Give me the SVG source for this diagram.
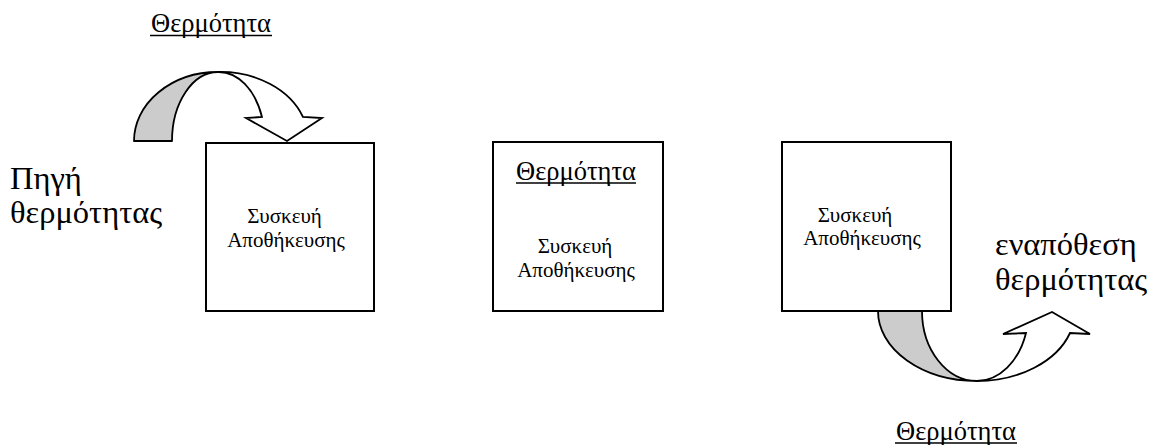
<svg xmlns="http://www.w3.org/2000/svg" width="1151" height="445" viewBox="0 0 1151 445">
<style>
.box{fill:#fff;stroke:#000;stroke-width:2}
.band{fill:#cccccc;stroke:#000;stroke-width:1.8;stroke-linejoin:round}
.arr{fill:#fff;stroke:#000;stroke-width:1.8;stroke-linejoin:miter}
.t{font-family:"Liberation Serif","Times New Roman",serif;fill:#000}
.sm{font-size:21px}
.md{font-size:26.5px}
.lg{font-size:32.5px}
.ul{stroke:#000;stroke-width:1.5}
</style>
<rect width="1151" height="445" fill="#fff"/>
<g id="connectors">
  <g id="arrow-in">
    <path class="band" d="M134,141 A84,69 0 0 1 218,72 A46,69 0 0 0 172,141 Z"/>
    <path class="arr" d="M218,72 A88,69 0 0 1 303,117 L322,118 L287,141 L246,118 L262,117 A46,69 0 0 0 218,72 Z"/>
  </g>
  <g id="arrow-out">
    <path class="band" d="M878,311 A99,70 0 0 0 977,381 A55,70 0 0 1 922,311 Z"/>
    <path class="arr" d="M977,381 A98,70 0 0 0 1070,333 L1090,334 L1052,312 L1003,334 L1026,333 A52,70 0 0 1 977,381 Z"/>
  </g>
</g>
<g id="label-top">
  <text class="t md" x="211" y="32" text-anchor="middle">Θερμότητα</text>
  <line class="ul" x1="150" y1="35.5" x2="272" y2="35.5"/>
</g>
<g id="source">
  <text class="t lg" x="10" y="189">Πηγή</text>
  <text class="t lg" x="10" y="223">θερμότητας</text>
</g>
<g id="box1">
  <rect class="box" x="206" y="143" width="168" height="168"/>
  <text class="t sm" x="284.5" y="223" text-anchor="middle">Συσκευή</text>
  <text class="t sm" x="286" y="247" text-anchor="middle">Αποθήκευσης</text>
</g>
<g id="box2">
  <rect class="box" x="493" y="142" width="170" height="169"/>
  <text class="t md" x="576" y="180" text-anchor="middle">Θερμότητα</text>
  <line class="ul" x1="516" y1="183" x2="636" y2="183"/>
  <text class="t sm" x="575" y="253" text-anchor="middle">Συσκευή</text>
  <text class="t sm" x="576" y="277" text-anchor="middle">Αποθήκευσης</text>
</g>
<g id="box3">
  <rect class="box" x="782" y="142" width="169" height="169"/>
  <text class="t sm" x="855" y="222" text-anchor="middle">Συσκευή</text>
  <text class="t sm" x="862" y="245" text-anchor="middle">Αποθήκευσης</text>
</g>
<g id="sink">
  <text class="t lg" x="995" y="255">εναπόθεση</text>
  <text class="t lg" x="995" y="290">θερμότητας</text>
</g>
<g id="label-bottom">
  <text class="t md" x="956" y="440" text-anchor="middle">Θερμότητα</text>
  <line class="ul" x1="895" y1="443" x2="1017" y2="443"/>
</g>
</svg>
